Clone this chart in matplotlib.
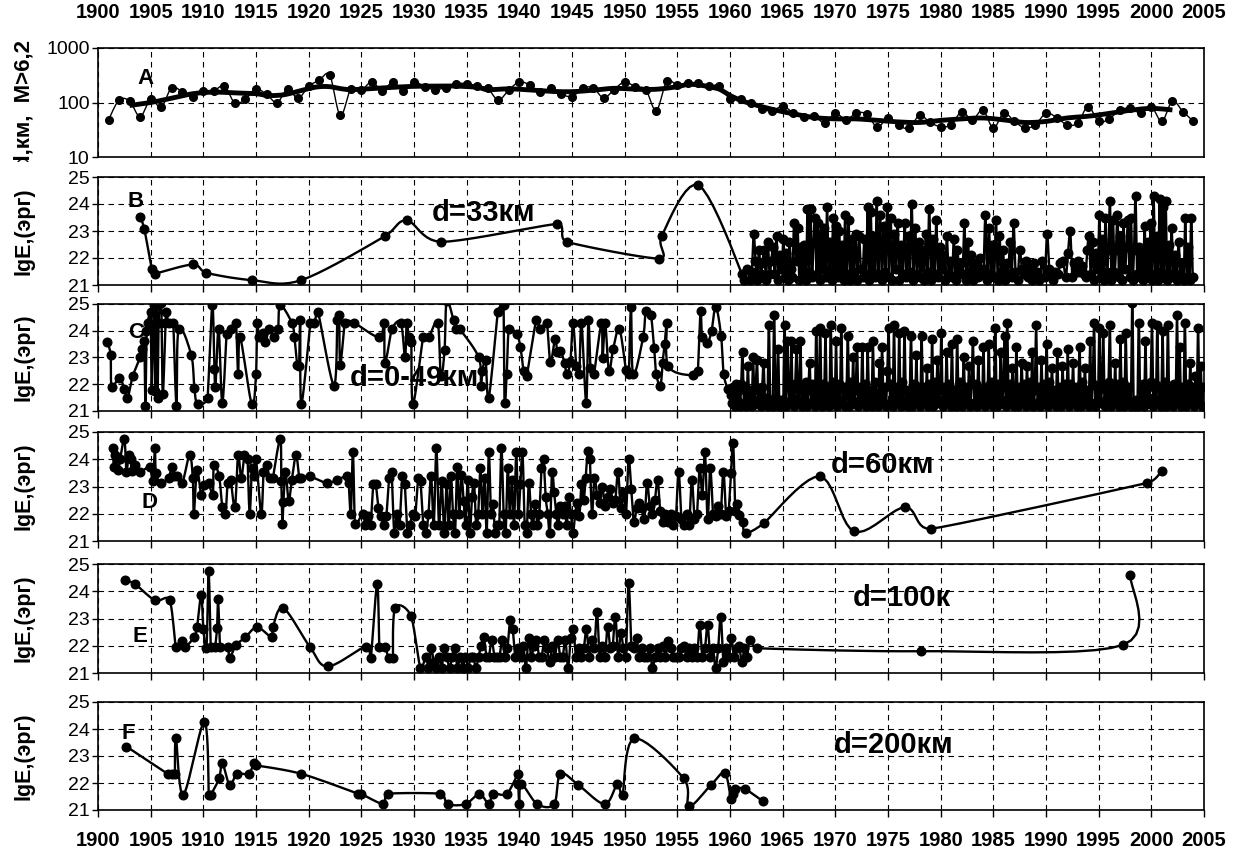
import numpy as np
import matplotlib.pyplot as plt
from matplotlib.transforms import Bbox, TransformedBbox

plt.rcParams['font.family'] = ['Liberation Sans', 'DejaVu Sans']

# ---------------- data ----------------
# A: depth d (km) of M>6.2 events, yearly values + smoothed curve
a_years = list(range(1901, 2005))
a_vals = [48, 111, 106, 55, 114, 82, 188, 157, 128, 164,
          164, 202, 97, 116, 176, 141, 100, 176, 119, 199,
          256, 324, 58, 176, 169, 239, 164, 239, 162, 239,
          194, 173, 188, 222, 222, 202, 181, 111, 169, 239,
          208, 153, 181, 143, 128, 181, 188, 121, 173, 239,
          194, 173, 71, 245, 208, 229, 229, 202, 202, 116,
          114, 97, 76, 70, 86, 65, 55, 57, 42, 64,
          48, 64, 61, 35, 53, 38, 34, 58, 43, 36,
          39, 68, 48, 73, 34, 64, 45, 34, 39, 64,
          53, 39, 42, 84, 45, 50, 73, 78, 64, 84,
          45, 106, 68, 45]
a_smooth = """1903 88 1905 100 1907 120 1909 145 1911 155 1913 150 1915 145 1916 135
1917 135 1918 143 1920 180 1921 195 1922 195 1923 180 1924 172 1926 180 1928 190
1930 198 1932 200 1934 200 1936 190 1937 172 1939 178 1941 170 1943 160 1945 158
1947 168 1949 182 1951 175 1953 175 1955 195 1956 215 1957 210 1958 195 1959 175
1960 135 1961 110 1962 95 1964 75 1966 62 1968 53 1970 50 1972 50 1974 47 1976 44
1978 43 1980 47 1982 50 1984 52 1986 48 1988 43 1990 45 1992 52 1994 56 1996 63
1998 72 2000 78 2002 73"""

# B: d=33 km
b_head = """1904.0 23.53 1904.4 23.07 1905.1 21.6 1905.4 21.42 1909.0 21.76 1910.3 21.45
1914.6 21.18 1919.3 21.18 1927.2 22.8 1929.3 23.39 1932.6 22.6 1943.6 23.26 1944.5 22.6
1953.3 21.98 1953.5 22.8 1957.0 24.7"""
b_dense = {
    1961: "21.4 21.2 21.6 21.2", 1962: "21.5 22.9 21.9 21.2 22.3 21.4",
    1963: "21.8 22.3 21.2 22.6 21.4 21.9", 1964: "22.4 21.4 22.8 21.2 22.1 21.6",
    1965: "22.7 21.3 22.2 21.2 22.6 21.6 21.3", 1966: "23.3 21.9 23.1 21.2 22.4 21.5",
    1967: "22.5 21.2 23.8 21.5 23.8 21.3 22.6", 1968: "23.5 21.4 23.3 21.2 22.9 21.6 23.1",
    1969: "21.3 23.9 21.5 22.6 21.2 23.5 21.4", 1970: "23.2 21.3 23.0 21.6 22.5 21.2 23.6",
    1971: "21.4 23.4 21.2 22.7 21.5 22.9", 1972: "21.2 22.8 21.6 21.3 22.7 21.4",
    1973: "23.9 21.2 23.7 21.5 22.8 21.3 24.1", 1974: "21.4 23.6 21.2 23.2 21.5 23.9",
    1975: "21.3 23.5 21.2 22.9 21.6 23.3", 1976: "21.2 22.5 21.4 23.3 21.3 22.8",
    1977: "21.5 24.0 21.2 23.1 21.4 22.6", 1978: "21.3 22.3 21.2 22.9 21.5 23.8",
    1979: "21.2 22.7 21.4 23.4 21.3 22.4", 1980: "21.6 22.1 21.2 22.8 21.4 21.9",
    1981: "21.3 22.7 21.2 22.3 21.5 21.8", 1982: "21.4 23.3 21.2 22.6 21.5 22.1",
    1983: "21.2 21.8 21.5 21.3 22.0 21.4", 1984: "21.6 23.6 21.2 23.1 21.4 22.5",
    1985: "21.3 23.4 21.2 22.8 21.5 22.3", 1986: "21.2 21.8 21.4 22.6 21.3 23.3",
    1987: "21.5 21.2 22.3 21.6 21.4", 1988: "21.9 21.3 21.6 21.2 21.8",
    1989: "21.5 21.2 21.9 21.3", 1990: "22.9 21.6 21.4 21.2 21.5",
    1991: "21.4 21.8 21.9 21.3", 1992: "22.2 23.0 21.3 21.8 21.5",
    1993: "21.9 21.5 21.7 21.4 21.3 22.3", 1994: "22.8 21.4 22.6 21.2 22.2 21.6",
    1995: "23.6 21.3 22.7 21.2 23.5 21.5 22.3", 1996: "24.1 21.2 23.4 21.5 22.3 23.6 21.3",
    1997: "22.8 21.2 23.3 21.6 22.4 23.4 21.3", 1998: "23.5 21.2 22.3 24.3 21.4 22.4 21.3",
    1999: "22.3 21.2 23.2 21.5 22.6 21.3 23.3", 2000: "21.2 24.3 21.4 22.8 21.2 24.2 21.5",
    2001: "23.9 21.3 24.1 21.2 22.5 21.4 23.1", 2002: "21.3 22.1 21.2 22.6 21.4 21.8",
    2003: "21.2 23.5 21.3 22.4 21.2 23.5 21.3",
}

# C: d=0-49 km
c_head = """1900.9 23.57 1901.2 23.1 1901.3 21.9 1902.0 22.25 1902.5 21.84 1902.8 21.48
1903.3 22.3 1904.0 23.0 1904.2 23.3 1904.4 23.6 1904.5 21.2 1904.6 24.0 1904.7 24.3
1905.0 24.7 1905.1 21.8 1905.3 24.95 1905.45 21.75 1905.55 24.95 1905.65 21.5
1905.75 24.3 1906.0 25.05 1906.15 21.65 1906.4 24.3 1906.5 24.7 1906.7 24.3 1907.15 24.3
1907.45 21.2 1907.65 24.05 1908.85 23.1 1909.15 21.85 1909.45 21.25 1910.4 21.5
1910.85 24.95 1911.05 22.58 1911.15 21.9 1911.45 24.05 1911.8 21.3 1912.2 23.87
1912.6 24.05 1913.1 24.3 1913.3 22.37 1913.5 23.75 1914.6 21.25 1915.0 22.37 1915.1 24.3
1915.3 23.75 1915.7 23.93 1915.9 23.57 1916.25 24.05 1916.75 23.75 1917.1 24.05
1917.3 24.95 1918.4 24.3 1918.65 23.75 1918.9 22.73 1919.1 22.67 1919.2 24.4 1919.3 21.25
1920.15 24.3 1920.55 24.3 1920.9 24.7 1922.4 21.95 1922.7 24.4 1922.9 24.6 1923.0 22.73
1923.45 24.3 1924.3 24.3 1926.7 23.75 1927.15 24.3 1927.25 22.8 1927.9 24.05 1928.75 24.3
1929.15 23.0 1929.3 24.3 1929.5 23.75 1929.75 23.57 1929.9 21.25 1930.85 23.75
1931.4 23.75 1932.25 24.3 1932.55 22.3 1932.9 23.27 1933.1 25.1 1933.75 24.4
1933.95 24.05 1934.35 24.05 1936.15 23.0 1936.35 21.95 1936.5 22.5 1936.8 22.9
1937.1 21.5 1937.95 24.7 1938.5 24.95 1938.6 21.3 1938.8 22.37 1939.0 24.05
1939.75 23.87 1940.1 23.4 1940.4 22.5 1940.7 22.3 1941.6 24.4 1942.0 24.05 1942.6 24.3
1942.95 22.85 1943.4 23.7 1943.6 23.2 1943.9 23.25 1944.3 22.8 1944.5 22.37 1944.85 22.85
1945.1 24.3 1945.4 22.67 1945.7 22.37 1945.9 24.3 1946.35 21.3 1946.55 24.4 1946.75 22.6
1947.1 22.4 1947.8 24.3 1947.9 22.97 1948.15 24.3 1948.5 22.5 1948.9 23.3 1949.5 24.07
1950.1 22.55 1950.4 22.37 1950.6 24.9 1950.8 22.37 1951.75 23.75 1952.0 24.73
1952.5 24.6 1952.8 23.34 1953.0 22.37 1953.4 21.95 1953.6 22.8 1953.8 23.5 1954.0 24.3
1954.15 22.67 1956.5 22.33 1956.95 22.5 1957.2 24.73 1957.35 23.76 1957.85 23.55
1958.25 24.0 1958.65 24.9 1959.15 23.82 1959.4 22.37 1959.8 21.82"""
c_dense = {
    1960: "21.6 21.3 21.9 21.2 22.0 21.4 21.8 21.2", 1961: "22.0 23.2 21.3 21.9 21.2 22.7 21.5 21.8",
    1962: "21.2 23.0 21.4 21.9 22.9 21.3 21.7 21.2", 1963: "21.9 22.8 21.3 21.5 21.2 24.2 21.4 21.3",
    1964: "21.2 24.6 21.5 21.3 23.3 21.2 21.4 21.2", 1965: "21.4 24.2 21.2 23.6 21.9 21.3 23.6 21.5",
    1966: "21.2 22.0 23.3 21.4 21.8 23.6 21.2 21.9", 1967: "21.5 22.1 21.2 21.8 22.8 21.3 22.0 21.4",
    1968: "21.2 24.0 21.6 21.3 24.1 21.2 22.0 21.5", 1969: "23.9 21.3 21.9 21.2 24.2 21.5 22.1 21.3",
    1970: "23.6 21.2 22.0 21.4 24.1 21.3 21.9 21.2", 1971: "21.6 23.8 21.2 22.1 21.4 23.0 21.3 21.8",
    1972: "23.4 21.2 21.9 21.5 23.4 21.3 22.0 21.2", 1973: "23.4 21.4 21.8 21.2 23.6 21.3 22.1 21.5",
    1974: "21.2 22.8 21.6 23.4 21.3 21.9 21.2 22.5", 1975: "24.1 21.3 22.0 21.2 24.2 21.5 21.9 21.3",
    1976: "23.9 21.2 22.1 21.4 24.0 21.3 21.8 21.2", 1977: "21.5 23.8 21.2 22.0 21.3 23.1 21.4 21.9",
    1978: "21.2 23.8 21.4 21.9 21.3 22.6 21.2 22.0", 1979: "21.3 23.7 21.2 22.1 21.5 22.9 21.3 21.8",
    1980: "23.9 21.2 21.9 21.4 23.2 21.3 22.0 21.2", 1981: "23.5 21.3 21.8 21.2 23.7 21.5 22.1 21.3",
    1982: "21.2 23.0 21.4 21.9 21.3 22.7 21.2 22.0", 1983: "23.6 21.3 22.0 21.2 22.9 21.5 21.8 21.3",
    1984: "23.4 21.2 21.9 21.4 23.5 21.3 22.1 21.2", 1985: "21.5 24.1 21.2 22.0 21.3 23.2 21.4 21.9",
    1986: "23.8 21.2 24.3 21.4 22.0 21.3 22.6 21.2", 1987: "21.3 23.4 21.2 21.9 21.5 22.8 21.3 22.0",
    1988: "21.2 22.7 21.4 22.1 21.3 23.2 21.2 21.8", 1989: "24.2 21.3 21.9 21.2 22.9 21.5 22.0 21.3",
    1990: "23.5 21.2 22.1 21.4 22.6 21.3 21.8 21.2", 1991: "23.2 21.3 21.9 21.2 22.7 21.5 22.0 21.3",
    1992: "23.3 21.2 22.0 21.4 22.8 21.3 21.9 21.2", 1993: "21.4 23.4 21.2 22.1 21.3 22.6 21.5 21.8",
    1994: "21.2 23.6 21.3 22.0 24.3 21.2 21.9 21.4", 1995: "24.1 21.3 22.0 23.9 21.2 21.8 21.5 22.1",
    1996: "24.2 21.2 21.9 21.4 22.8 21.3 22.0 21.2", 1997: "23.7 21.3 22.1 21.2 23.9 21.5 21.9 21.3",
    1998: "21.2 25.05 21.3 21.2 21.4 21.2 24.3 21.3", 1999: "21.4 22.0 21.2 23.6 21.3 21.9 21.5 22.1",
    2000: "24.3 21.2 22.0 21.4 24.2 21.3 21.9 21.2", 2001: "24.0 21.3 22.1 21.2 24.2 21.5 21.8 21.3",
    2002: "21.2 22.0 21.4 24.6 21.3 23.4 21.2 21.9", 2003: "21.5 24.3 21.2 22.0 21.3 22.8 21.4 21.9",
    2004: "21.2 22.3 21.5 24.1 21.3 22.7 21.2 21.9",
}

# D: d=60 km
d_head = """1901.4 24.4 1901.5 23.7 1901.6 24.15 1901.9 23.6 1902.1 24.0 1902.5 24.75 1902.7 23.55
1902.9 24.15 1903.1 24.0 1903.2 23.57 1903.5 23.8 1904.0 23.55 1904.9 23.7 1905.2 23.2
1905.4 24.4 1905.5 23.5 1906.0 23.13 1906.7 23.33 1907.0 23.7 1907.2 23.37 1907.5 23.37
1908.0 23.13 1908.7 24.15 1909.0 23.3 1909.1 22.0 1909.4 23.6 1909.8 22.7 1910.1 23.07
1910.5 23.13 1910.9 22.7 1911.0 23.8 1911.5 23.37 1911.8 22.24 1912.1 21.98 1912.3 23.13
1912.6 23.25 1913.0 22.24 1913.3 24.15 1913.6 23.3 1913.9 24.15 1914.2 24.0 1914.4 21.98
1914.6 23.67 1914.8 23.4 1915.0 24.0 1915.5 21.98 1915.7 23.55 1916.0 23.8 1916.3 23.3
1916.6 23.3 1917.3 24.75 1917.4 23.2 1917.5 21.64 1917.6 22.42 1917.8 23.55 1918.1 22.48
1918.4 23.25 1918.8 24.15 1919.1 23.3 1919.3 23.3 1920.1 23.37 1921.7 23.13 1922.7 23.25
1923.6 23.37 1923.8 23.13 1924.0 21.98 1924.2 24.26 1924.4 21.64"""
d_dense = {
    1925: "22.0 21.6 21.9 21.6", 1926: "23.1 23.1 22.2 21.9", 1927: "21.6 21.9 23.3 23.55",
    1928: "21.3 22.0 21.6 23.37", 1929: "23.1 21.3 21.6 22.0", 1930: "21.9 23.3 23.2 21.6",
    1931: "21.3 22.0 23.4 21.6", 1932: "24.4 21.6 23.2 21.3", 1933: "23.1 21.6 23.37 22.0 21.3",
    1934: "23.73 22.0 23.43 22.48 21.6", 1935: "23.25 21.3 22.6 23.13 21.6",
    1936: "22.0 23.67 22.0 23.3 21.3", 1937: "24.26 22.0 22.36 21.3 21.6",
    1938: "21.6 24.4 22.0 21.3 23.67", 1939: "22.0 23.25 21.6 24.26 22.0",
    1940: "23.1 24.26 21.6 21.3 23.13", 1941: "22.0 21.6 22.36 21.6 22.0",
    1942: "23.67 24.0 22.6 22.0 21.3", 1943: "23.55 22.8 22.0 21.6 22.3",
    1944: "22.0 22.3 21.6 22.6 22.0", 1945: "21.3 22.0 22.4 21.9 23.1",
    1946: "22.5 23.3 24.3 24.0 22.0", 1947: "23.3 22.7 22.4 23.0",
    1948: "22.3 22.6 22.9 22.4", 1949: "22.5 23.55 22.2 22.8",
    1950: "22.0 24.0 22.9 21.7", 1951: "22.2 22.4 22.2 21.8", 1952: "23.13 22.3 22.0 22.5",
    1953: "23.25 22.1 21.7 22.0", 1954: "21.7 22.0 21.6 21.9", 1955: "23.55 21.8 21.6 22.0",
    1956: "21.6 23.25 21.8 22.0", 1957: "23.67 22.7 24.26 21.8", 1958: "23.67 22.0 21.9 22.3",
    1959: "22.0 23.55 21.9 22.1",
}
d_tail = """1960.1 23.5 1960.3 24.6 1960.5 22.1 1960.7 22.36 1960.9 21.95 1961.2 21.7
1961.5 21.3 1963.2 21.65 1968.5 23.37 1971.8 21.35 1976.6 22.24 1979.1 21.45
1999.6 23.13 2001.0 23.57"""

# E: d=100 km
e_head = """1902.6 24.4 1903.5 24.27 1905.4 23.67 1906.8 23.67 1907.4 21.94 1908.0 22.17
1908.3 21.97 1909.1 22.31 1909.4 22.68 1909.8 23.85 1910.0 22.63 1910.3 21.93 1910.5 24.73
1910.7 21.97 1911.1 21.97 1911.3 22.65 1911.4 23.7 1911.6 21.97 1912.3 21.97 1912.5 21.56
1913.1 22.02 1914.0 22.31 1915.1 22.68 1916.5 22.31 1916.6 22.68 1917.6 23.38 1920.1 21.97
1921.8 21.24 1925.4 21.97 1925.9 21.56 1926.5 24.27 1926.7 21.97 1927.2 21.97 1927.6 21.56
1928.0 21.56 1928.2 23.38 1929.7 23.1 1930.6 21.2"""
e_dense = {
    1931: "21.6 21.2 21.9 21.4", 1932: "21.2 21.6 21.2 21.9", 1933: "21.6 21.2 21.6 21.9",
    1934: "21.2 21.6 21.2 21.6", 1935: "21.2 21.6 21.6 21.2", 1936: "21.6 22.0 22.31 21.6",
    1937: "21.6 22.2 21.6 21.6", 1938: "21.6 22.2 21.6 21.9", 1939: "22.93 22.6 21.6 21.9",
    1940: "21.6 22.0 21.2 22.3", 1941: "21.6 22.0 22.2 21.6", 1942: "21.6 22.2 21.9 21.4",
    1943: "22.0 21.6 22.2 21.6", 1944: "21.6 22.2 21.2 22.3", 1945: "22.6 21.6 21.9 21.6",
    1946: "21.9 22.6 21.6 22.2", 1947: "21.9 23.24 21.6 22.0", 1948: "21.6 22.69 21.9 22.0",
    1949: "23.07 21.6 22.48 21.9", 1950: "21.6 24.3 22.0 21.9", 1951: "22.3 21.6 21.9 21.6",
    1952: "21.6 21.9 21.2 21.6", 1953: "21.9 21.6 22.0 21.6", 1954: "22.16 21.9 21.6 21.6",
    1955: "21.6 21.9 22.0 21.6", 1956: "21.9 21.6 21.9 21.6", 1957: "22.75 21.6 21.9 22.75",
    1958: "21.6 21.9 21.2 21.9", 1959: "23.07 21.4 21.9 21.6", 1960: "22.28 21.6 21.9 22.0",
    1961: "21.4 21.9 21.6 22.2",
}
e_tail = "1962.6 21.91 1978.1 21.8 1997.3 22.03 1998.0 24.6"

# F: d=200 km
f_pts = """1902.7 23.35 1906.6 22.34 1907.0 22.34 1907.3 22.34 1907.4 23.65 1908.1 21.56
1910.1 24.27 1910.5 21.56 1910.7 21.56 1911.5 22.17 1911.8 22.74 1912.5 21.93 1913.2 22.34
1914.3 22.34 1914.8 22.74 1915.0 22.65 1919.3 22.34 1924.7 21.6 1925.0 21.6 1927.1 21.22
1927.5 21.6 1932.5 21.6 1933.2 21.22 1934.9 21.22 1936.2 21.6 1937.1 21.22 1937.5 21.6
1938.8 21.6 1939.9 22.34 1939.9 21.95 1940.0 21.22 1940.2 21.95 1941.7 21.22 1943.3 21.22
1943.9 22.34 1945.6 21.93 1948.1 21.22 1949.3 21.95 1949.8 21.56 1950.9 23.65 1955.6 22.17
1956.1 21.14 1958.2 21.93 1959.5 22.37 1960.1 21.39 1960.3 21.61 1960.5 21.78 1961.4 21.78
1963.1 21.33"""

panel_notes = ["d=33км", "d=0-49км", "d=60км", "d=100к", "d=200км"]
note_pos = [(1936.6, 23.65), (1930.0, 22.25), (1974.5, 23.8), (1976.3, 23.75), (1975.5, 23.42)]
letters = ["B", "C", "D", "E", "F"]
letter_pos = [(1903.6, 24.08), (1903.6, 23.93), (1904.9, 22.42), (1904.0, 22.35), (1902.9, 23.83)]


def nums(s):
    return [float(v) for v in s.split()]


def pairs(s):
    v = nums(s)
    return v[0::2], v[1::2]


def spread(d):
    xs, ys = [], []
    for yr, s in d.items():
        v = nums(s)
        n = len(v)
        xs += [yr + (k + 0.5) / n for k in range(n)]
        ys += v
    return xs, ys


def smooth(x, y, sx=10.5, sy=27.0, n=10):
    # Excel-like smoothed line: Catmull-Rom as cubic Bezier, handles limited
    # to half the neighbouring segment length so that curves do not loop back
    P = np.column_stack([np.asarray(x, float) * sx, np.asarray(y, float) * sy])
    Q = np.vstack([P[0], P, P[-1]])
    t = np.linspace(0, 1, n, endpoint=False)[:, None]

    def handle(i):
        h = (Q[i + 1] - Q[i - 1]) / 6
        lim = 0.5 * min(np.hypot(*(Q[i] - Q[i - 1])) or np.inf, np.hypot(*(Q[i + 1] - Q[i])) or np.inf)
        nh = np.hypot(*h)
        if np.isfinite(lim) and nh > lim:
            h = h * lim / nh
        return h

    segs = []
    for i in range(1, len(Q) - 2):
        p1, p2 = Q[i], Q[i + 1]
        c1 = p1 + handle(i)
        c2 = p2 - handle(i + 1)
        segs.append((1 - t) ** 3 * p1 + 3 * (1 - t) ** 2 * t * c1 + 3 * (1 - t) * t ** 2 * c2 + t ** 3 * p2)
    segs.append(Q[-2][None])
    S = np.vstack(segs)
    return S[:, 0] / sx, S[:, 1] / sy


def join(*parts):
    xs, ys = [], []
    for px, py in parts:
        xs += list(px)
        ys += list(py)
    return xs, ys


series = [
    join(pairs(b_head), spread(b_dense)),
    join(pairs(c_head), spread(c_dense)),
    join(pairs(d_head), spread(d_dense), pairs(d_tail)),
    join(pairs(e_head), spread(e_dense), pairs(e_tail)),
    pairs(f_pts),
]

# ---------------- figure ----------------
W, H = 1236, 851
fig = plt.figure(figsize=(W / 100, H / 100), dpi=100)
L, R = 98, 1204
rows = [(48, 157), (177, 285), (304, 411), (432, 541), (564, 673), (702, 810)]
YEAR_FS = 14.5


def make_ax(top, bot):
    ax = fig.add_axes([L / W, 1 - bot / H, (R - L) / W, (bot - top) / H])
    ax.set_xlim(1900, 2005)
    ax.set_xticks(range(1900, 2006, 5))
    ax.tick_params(axis='x', labelbottom=False, length=5, width=1, direction='out')
    ax.tick_params(axis='y', length=4, width=1, labelsize=14, pad=2)
    ax.grid(True, which='major', ls=(0, (5, 4)), color='black', lw=0.8)
    for s in ax.spines.values():
        s.set_color('black')
        s.set_linewidth(1.2)
    return ax


axes = [make_ax(t, b) for t, b in rows]

# panel A
ax = axes[0]
ax.set_yscale('log')
ax.set_ylim(10, 1000)
ax.set_yticks([10, 100, 1000])
ax.set_yticklabels(['10', '100', '1000'])
ax.minorticks_off()
ax.tick_params(axis='x', top=True, labeltop=True, length=0, pad=19)
for lab in ax.get_xticklabels():
    lab.set_fontweight('bold')
    lab.set_fontsize(YEAR_FS)
sx, sy = smooth(a_years, np.log10(a_vals), sy=55.0)
ax.plot(sx, 10 ** sy, color='black', lw=1.0, zorder=3)
ax.plot(a_years, a_vals, 'o', color='black', ms=5.5, zorder=4)
ms_x, ms_y = pairs(a_smooth)
tx, ty = smooth(ms_x, np.log10(ms_y), sy=55.0)
ax.plot(tx, 10 ** ty, color='black', lw=3.5, zorder=5, solid_capstyle='butt')
ax.text(1904.5, 270, 'A', fontsize=16, fontweight='bold', ha='center', va='center', zorder=6)

ylab = fig.text(24 / W, 1 - 40 / H, 'd,км,  M>6,2', rotation=90, ha='center', va='top',
                fontsize=16, fontweight='bold')
ylab.set_clip_box(TransformedBbox(Bbox([[0, 1 - 162 / H], [1, 1]]), fig.transFigure))
ylab.set_clip_on(True)

# panels B-F
for i, ax in enumerate(axes[1:]):
    ax.set_ylim(21, 25)
    ax.set_yticks([21, 22, 23, 24, 25])
    x, y = series[i]
    sx, sy = smooth(x, y)
    ax.plot(sx, sy, color='black', lw=1.7, zorder=3)
    ax.plot(x, y, 'o', color='black', ms=6.2, zorder=4)
    ax.text(*note_pos[i], panel_notes[i], fontsize=21, fontweight='bold', ha='center', va='center', zorder=2)
    ax.text(*letter_pos[i], letters[i], fontsize=16, fontweight='bold', ha='center', va='center', zorder=5)
    top, bot = rows[i + 1]
    fig.text(24 / W, 1 - (top + bot) / 2 / H, 'lgE,(эрг)', rotation=90, ha='center', va='center',
             fontsize=15.5, fontweight='bold')

axes[-1].tick_params(axis='x', labelbottom=True, pad=10)
for lab in axes[-1].get_xticklabels():
    lab.set_fontweight('bold')
    lab.set_fontsize(YEAR_FS)

fig.savefig('out.png', dpi=100)
